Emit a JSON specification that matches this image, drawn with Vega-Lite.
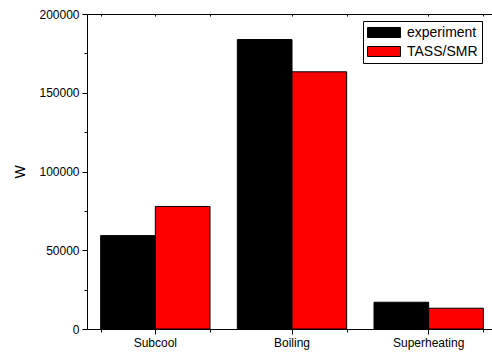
{
  "$schema": "https://vega.github.io/schema/vega-lite/v6.json",
  "autosize": {"type": "none"},
  "width": 405,
  "height": 315,
  "padding": {"left": 87, "top": 14, "right": 0, "bottom": 26},
  "background": "white",
  "config": {
    "view": {"stroke": null},
    "font": "Liberation Sans",
    "axis": {"domainColor": "black", "tickColor": "black", "labelColor": "black", "titleColor": "black", "labelFont": "Liberation Sans", "titleFont": "Liberation Sans", "grid": false},
    "legend": {"strokeColor": "black", "strokeWidth": 1}
  },
  "data": {"values": [
    {"stage": "Subcool", "series": "experiment", "power": 59300},
    {"stage": "Subcool", "series": "TASS/SMR", "power": 77800},
    {"stage": "Boiling", "series": "experiment", "power": 183800},
    {"stage": "Boiling", "series": "TASS/SMR", "power": 163300},
    {"stage": "Superheating", "series": "experiment", "power": 17000},
    {"stage": "Superheating", "series": "TASS/SMR", "power": 13200}
  ]},
  "resolve": {"axis": {"x": "independent"}},
  "layer": [
    {
      "mark": {"type": "bar", "stroke": "black", "strokeWidth": 1},
      "encoding": {
        "x": {"field": "stage", "type": "nominal", "sort": ["Subcool", "Boiling", "Superheating"],
          "scale": {"range": [0, 410], "paddingInner": 0.2, "paddingOuter": 0.1},
          "axis": {"orient": "bottom", "title": null, "labelAngle": 0, "labelFontSize": 12, "labelPadding": 3, "tickSize": 5, "domainWidth": 1, "tickWidth": 1}},
        "xOffset": {"field": "series", "type": "nominal", "sort": ["experiment", "TASS/SMR"]},
        "y": {"field": "power", "type": "quantitative",
          "scale": {"domain": [0, 200000], "nice": false},
          "axis": {"title": "W", "titleFontSize": 14, "titleFontWeight": "normal", "titlePadding": 11,
            "values": [0, 25000, 50000, 75000, 100000, 125000, 150000, 175000, 200000],
            "format": "d", "labelExpr": "datum.value % 50000 === 0 ? datum.label : ''",
            "tickSize": {"condition": {"test": "datum.value % 50000 === 0", "value": 5}, "value": 3},
            "labelFontSize": 12, "labelPadding": 3}},
        "color": {"field": "series", "type": "nominal", "sort": ["experiment", "TASS/SMR"],
          "scale": {"range": ["#000000", "#ff0000"]},
          "legend": {"title": null, "orient": "none", "legendX": 276, "legendY": 7,
            "strokeColor": "black", "padding": 4, "labelFontSize": 14, "labelColor": "black", "labelFont": "Liberation Sans",
            "symbolType": "M-1,-0.714H3.714V0.714H-1Z", "symbolSize": 196, "symbolStrokeColor": "black", "symbolStrokeWidth": 1,
            "symbolOpacity": 1, "labelOffset": 25, "rowPadding": 4, "fillColor": "white"}}
      }
    },
    {
      "mark": {"type": "bar", "opacity": 0},
      "encoding": {
        "x": {"field": "stage", "type": "nominal", "sort": ["Subcool", "Boiling", "Superheating"],
          "axis": {"orient": "bottom", "title": null, "labels": false, "domain": false, "tickBand": "extent", "tickSize": 3}}
      }
    },
    {
      "mark": {"type": "bar", "opacity": 0},
      "encoding": {
        "x": {"field": "stage", "type": "nominal", "sort": ["Subcool", "Boiling", "Superheating"],
          "axis": {"orient": "top", "title": null, "labels": false, "domain": true, "tickSize": -2}}
      }
    },
    {
      "mark": {"type": "bar", "opacity": 0},
      "encoding": {
        "x": {"field": "stage", "type": "nominal", "sort": ["Subcool", "Boiling", "Superheating"],
          "axis": {"orient": "top", "title": null, "labels": false, "domain": false, "tickBand": "extent", "tickSize": -2}}
      }
    }
  ]
}
